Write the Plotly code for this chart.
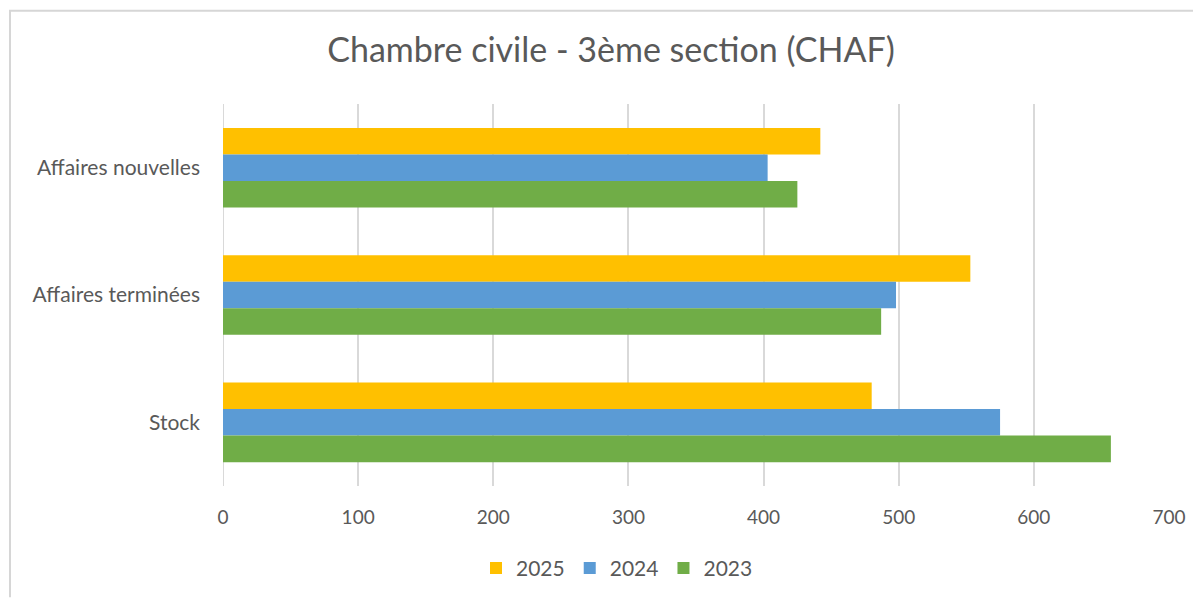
import plotly.graph_objects as go

categories = ["Affaires nouvelles", "Affaires terminées", "Stock"]
years = ["2025", "2024", "2023"]
values_2025 = [442, 553, 480]
values_2024 = [403, 498, 575]
values_2023 = [425, 487, 657]
colors = ["#FFC000", "#5B9BD5", "#70AD47"]
x_ticks = [0, 100, 200, 300, 400, 500, 600, 700]

fig = go.Figure()
for name, vals, col in zip(years, [values_2025, values_2024, values_2023], colors):
    fig.add_trace(go.Bar(y=categories, x=vals, name=name, orientation="h",
                         marker=dict(color=col, line=dict(width=0))))

OFF = 8  # page body margin
FW, FH = 1201 - OFF, 601 - OFF
L, R, T, B = 223 - OFF, 1169 - OFF, 104 - OFF, 489 - OFF
W, H = R - L, B - T
def px(x): return (x - OFF - L) / W
def py(y): return (B - (y - OFF)) / H

fig.update_layout(
    width=FW, height=FH,
    margin=dict(l=L, r=FW - R, t=T, b=FH - B),
    paper_bgcolor="white", plot_bgcolor="white",
    barmode="group", bargap=0.375, bargroupgap=0,
    font=dict(family="Lato, Open Sans, sans-serif", color="#595959"),
    title=dict(text="Chambre civile - 3ème section (CHAF)", x=px(611), xanchor="center",
               xref="paper", y=1 - (50 - OFF) / FH, yanchor="middle",
               font=dict(size=34, color="#595959")),
    xaxis=dict(range=[0, 700], tickvals=x_ticks, showgrid=True, gridcolor="#D9D9D9",
               gridwidth=2, zeroline=False, showline=False,
               tickfont=dict(size=19, color="#595959"), ticklabelstandoff=18),
    yaxis=dict(autorange="reversed", showgrid=False, zeroline=False, showline=False,
               tickfont=dict(size=21, color="#595959"), ticklabelstandoff=22),
    legend=dict(orientation="h", x=px(617), xanchor="center", y=py(572), yanchor="middle",
                font=dict(size=21, color="#595959"), itemwidth=30, tracegroupgap=0),
    shapes=[
        dict(type="line", xref="x", yref="paper", x0=0, x1=0, y0=0, y1=1,
             line=dict(color="#D9D9D9", width=2), layer="below"),
        dict(type="line", xref="paper", yref="paper",
             x0=px(9), x1=px(1201), y0=py(10), y1=py(10),
             line=dict(color="#D6D6D6", width=2)),
        dict(type="line", xref="paper", yref="paper",
             x0=px(10), x1=px(10), y0=py(10), y1=py(601),
             line=dict(color="#D6D6D6", width=2)),
    ],
)
fig.write_html("out.html")
